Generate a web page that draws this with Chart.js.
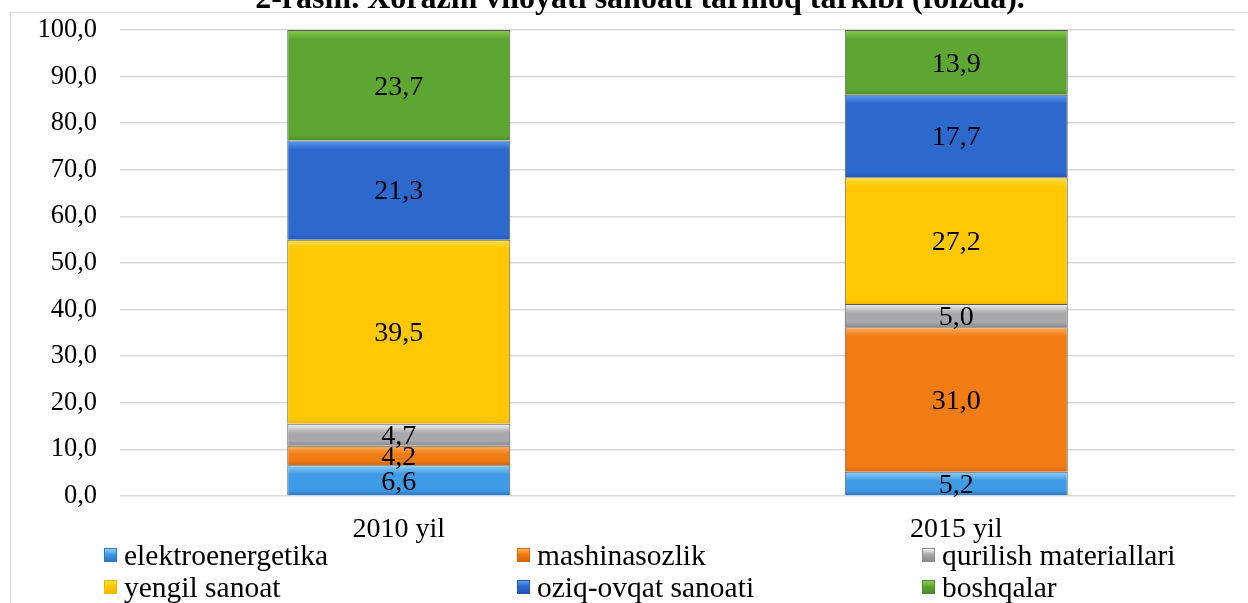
<!DOCTYPE html>
<html>
<head>
<meta charset="utf-8">
<script src="https://cdn.jsdelivr.net/npm/chart.js@4.4.1/dist/chart.umd.min.js"></script>
<style>
  html, body { margin: 0; padding: 0; background: #fff; overflow: hidden; }
  #wrap { position: relative; width: 1248px; height: 603px; overflow: hidden; }
  #frame { position: absolute; left: 10px; top: 12px; width: 1250px; height: 600px; border: 1px solid #d9d9d9; box-sizing: border-box; }
  #title { position: absolute; left: 0; width: 1280px; top: -19px; text-align: center;
           font-family: "Liberation Serif", serif; font-weight: bold; font-size: 32px; color: #000; white-space: nowrap; line-height: 32px; }
  canvas { position: absolute; left: 0; top: 0; }
  #legend { position: absolute; left: 0; top: 539px; width: 1248px; font-family: "Liberation Serif", serif; font-size: 29.5px; color: #000; }
  .item { position: absolute; display: flex; align-items: center; white-space: nowrap; line-height: 32px; }
  .box { width: 13px; height: 14px; margin-right: 7px; box-sizing: border-box; }
</style>
</head>
<body>
<div id="wrap">
  <div id="frame"></div>
  <canvas id="chart" width="1248" height="603"></canvas>
  <div id="title">2-rasm. Xorazm viloyati sanoati tarmoq tarkibi (foizda).</div>
  <div id="legend"></div>
</div>
<script>
const years = ['2010 yil', '2015 yil'];
const sectors = ['elektroenergetika', 'mashinasozlik', 'qurilish materiallari', 'yengil sanoat', 'oziq-ovqat sanoati', 'boshqalar'];
const elektroenergetika = [6.6, 5.2];
const mashinasozlik = [4.2, 31.0];
const qurilish = [4.7, 5.0];
const yengil = [39.5, 27.2];
const oziqOvqat = [21.3, 17.7];
const boshqalar = [23.7, 13.9];
const yTicks = [0, 10, 20, 30, 40, 50, 60, 70, 80, 90, 100];

const series = [elektroenergetika, mashinasozlik, qurilish, yengil, oziqOvqat, boshqalar];
const colors = ['#3f9be6', '#f07c14', '#a9a9ab', '#ffc800', '#2d68cc', '#5ea632'];
const lightColors = ['#8fd0fb', '#ffb060', '#f4f4f4', '#ffe04a', '#5d9cf0', '#84cc4c'];
const darkColors = ['#2d78c4', '#d8640a', '#8a8a90', '#f0b800', '#2458b8', '#4d8c28'];

function fmt(v) {
    return v.toFixed(1).replace('.', ',');
}

function barFill(ctx, i) {
    const el = ctx.element;
    if (!el || el.base === undefined || isNaN(el.y)) return colors[i];
    const top = Math.min(el.y, el.base), bot = Math.max(el.y, el.base);
    if (bot - top < 1) return colors[i];
    const g = ctx.chart.ctx.createLinearGradient(0, top, 0, bot);
    g.addColorStop(0, lightColors[i]);
    g.addColorStop(Math.min(0.45, 9 / (bot - top)), colors[i]);
    g.addColorStop(1 - Math.min(0.3, 5 / (bot - top)), colors[i]);
    g.addColorStop(1, darkColors[i]);
    return g;
}

// values printed in the middle of each segment
const segLabels = {
    id: 'segLabels',
    afterDatasetsDraw(chart) {
        const c = chart.ctx;
        c.save();
        c.font = '28px "Liberation Serif", serif';
        c.fillStyle = '#000';
        c.textAlign = 'center';
        c.textBaseline = 'middle';
        chart.data.datasets.forEach((ds, i) => {
            chart.getDatasetMeta(i).data.forEach((bar, j) => {
                const y = (bar.y + bar.base) / 2;
                c.fillText(fmt(ds.data[j]), bar.x, y + 2);
            });
        });
        c.restore();
    }
};

const chart = new Chart(document.getElementById('chart'), {
    type: 'bar',
    data: {
        labels: years,
        datasets: series.map((d, i) => ({
            label: sectors[i],
            data: d,
            backgroundColor: ctx => barFill(ctx, i),
            borderColor: '#5a5a5a',
            borderWidth: 1,
            barPercentage: 0.4,
            categoryPercentage: 1
        }))
    },
    options: {
        responsive: false,
        animation: false,
        layout: { padding: { top: 30, right: 13, bottom: 0, left: 0 } },
        scales: {
            x: {
                stacked: true,
                grid: { display: false },
                border: { display: false },
                ticks: { color: '#000', font: { family: 'Liberation Serif', size: 28 }, padding: 9 },
                afterFit: s => { s.height = 107; }
            },
            y: {
                stacked: true,
                min: 0,
                max: 100,
                afterBuildTicks: s => { s.ticks = yTicks.map(v => ({ value: v })); },
                grid: { color: '#d9d9d9', lineWidth: 1.5, drawTicks: false },
                border: { display: false },
                ticks: {
                    color: '#000',
                    font: { family: 'Liberation Serif', size: 26.5 },
                    padding: 23,
                    callback: v => fmt(v)
                },
                afterFit: s => { s.width = 120; s.paddingTop = 0; s.paddingBottom = 0; }
            }
        },
        plugins: {
            legend: { display: false },
            tooltip: { enabled: false }
        }
    },
    plugins: [segLabels]
});
// second pass so the gradients know where each segment sits
chart.update('none');

// legend in three columns, two rows
const legendPos = [[104, 0], [517, 0], [922, 0], [104, 32], [517, 32], [922, 32]];
const legendEl = document.getElementById('legend');
sectors.forEach((name, i) => {
    const item = document.createElement('div');
    item.className = 'item';
    item.style.left = legendPos[i][0] + 'px';
    item.style.top = legendPos[i][1] + 'px';
    const box = document.createElement('span');
    box.className = 'box';
    box.style.background = 'linear-gradient(' + lightColors[i] + ', ' + colors[i] + ' 45%, ' + darkColors[i] + ')';
    box.style.border = '1px solid ' + darkColors[i];
    const txt = document.createElement('span');
    txt.textContent = name;
    item.appendChild(box);
    item.appendChild(txt);
    legendEl.appendChild(item);
});
</script>
</body>
</html>
